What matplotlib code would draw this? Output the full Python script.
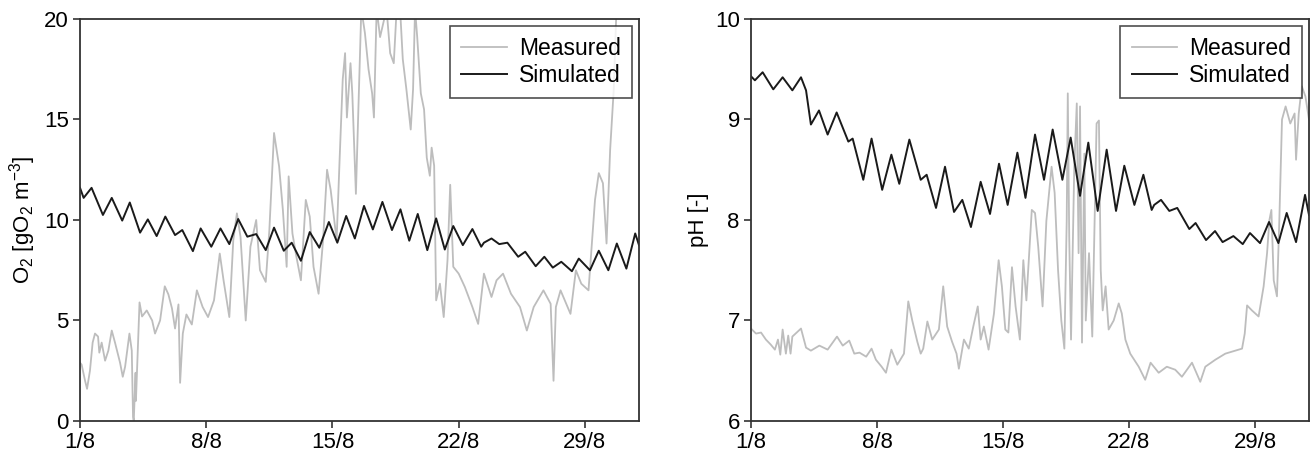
import matplotlib
matplotlib.use("Agg")
import matplotlib.pyplot as plt

plt.rcParams.update({
    "font.family": ["Liberation Sans", "DejaVu Sans"],
    "mathtext.fontset": "custom",
    "mathtext.rm": "Liberation Sans",
    "mathtext.it": "Liberation Sans:italic",
    "mathtext.bf": "Liberation Sans:bold",
})

# days after 1 August
TICK_DAYS = [0, 7, 14, 21, 28]
TICK_LABELS = ["1/8", "8/8", "15/8", "22/8", "29/8"]

o2_meas_day = [0.0, 0.09, 0.28, 0.39, 0.55, 0.7, 0.83, 1.0, 1.07, 1.2, 1.39, 1.57, 1.76, 1.94,
               2.22, 2.37, 2.5, 2.74, 2.87, 2.94, 2.98, 3.08, 3.1, 3.3, 3.44, 3.7, 4.0, 4.16,
               4.44, 4.7, 4.9, 5.1, 5.27, 5.46, 5.55, 5.7, 5.9, 6.2, 6.48, 6.8, 7.1, 7.43,
               7.75, 7.96, 8.28, 8.5, 8.7, 8.9, 9.19, 9.45, 9.77, 9.98, 10.3, 10.5, 10.76,
               11.04, 11.25, 11.46, 11.57, 11.78, 12.0, 12.25, 12.52, 12.74, 12.95, 13.23,
               13.48, 13.7, 13.9, 14.23, 14.4, 14.57, 14.7, 14.8, 15.0, 15.1, 15.3, 15.5,
               15.6, 15.8, 16.0, 16.2, 16.3, 16.45, 16.64, 17.0, 17.2, 17.4, 17.56, 17.75,
               17.9, 18.1, 18.34, 18.47, 18.58, 18.7, 18.9, 19.08, 19.23, 19.4, 19.5, 19.64,
               19.75, 19.96, 20.17, 20.38, 20.53, 20.7, 21.0, 21.34, 21.76, 22.08, 22.4,
               22.82, 23.1, 23.46, 23.9, 24.4, 24.78, 25.16, 25.7, 26.1, 26.26, 26.39, 26.65,
               27.2, 27.5, 27.8, 28.2, 28.56, 28.77, 29.0, 29.2, 29.4, 29.6, 29.75, 30.0, 31.0]
o2_meas = [2.9, 2.8, 2.0, 1.6, 2.5, 3.9, 4.35, 4.2, 3.4, 3.9, 3.0, 3.5, 4.5, 3.9,
           2.9, 2.2, 2.7, 4.35, 3.5, 0.2, 0.0, 2.4, 1.0, 5.9, 5.2, 5.5, 5.0, 4.35,
           5.0, 6.7, 6.3, 5.6, 4.6, 5.8, 1.9, 4.35, 5.3, 4.8, 6.5, 5.67, 5.17, 6.0,
           8.33, 7.0, 5.17, 9.0, 10.33, 9.17, 5.0, 8.67, 10.0, 7.5, 6.92, 9.5, 14.33,
           12.67, 10.5, 7.67, 12.17, 9.33, 8.17, 7.0, 11.0, 10.17, 7.67, 6.33,
           9.0, 12.5, 11.5, 9.0, 13.1, 17.0, 18.3, 15.1, 17.8, 16.3, 11.3, 17.5,
           20.5, 19.3, 17.5, 16.3, 15.1, 20.5, 19.1, 20.5, 18.3, 17.8, 20.5, 20.5,
           18.0, 16.5, 14.5, 16.5, 20.5, 19.1, 16.3, 15.5, 13.1, 12.2, 13.6, 12.7,
           6.0, 6.83, 5.17, 8.0, 11.75, 7.67, 7.33, 6.67, 5.67, 4.83, 7.33,
           6.17, 7.0, 7.33, 6.33, 5.67, 4.5, 5.67, 6.5, 5.83, 2.0, 5.67, 6.5,
           5.33, 7.5, 6.83, 6.5, 11.0, 12.33, 11.83, 8.83, 13.5, 16.5, 20.5, 21.0, 21.0]

o2_sim_day = [0.0, 0.2, 0.64, 1.27, 1.76, 2.34, 2.76, 3.33, 3.76, 4.25, 4.73, 5.27, 5.67,
              6.26, 6.69, 7.28, 7.79, 8.28, 8.77, 9.28, 9.77, 10.3, 10.76, 11.3, 11.74,
              12.25, 12.74, 13.27, 13.8, 14.27, 14.76, 15.24, 15.75, 16.24, 16.77, 17.3,
              17.77, 18.26, 18.73, 19.26, 19.75, 20.23, 20.7, 21.23, 21.76, 22.25, 22.4,
              22.82, 23.25, 23.7, 24.3, 24.69, 25.27, 25.75, 26.22, 26.69, 27.28, 27.66,
              28.28, 28.77, 29.3, 29.77, 30.3, 30.79, 31.0]
o2_sim = [11.6, 11.1, 11.6, 10.25, 11.1, 9.97, 10.87, 9.37, 10.03, 9.2, 10.17, 9.25, 9.5,
          8.45, 9.58, 8.67, 9.58, 8.8, 10.05, 9.17, 9.3, 8.5, 9.62, 8.47, 8.87,
          7.97, 9.4, 8.62, 9.9, 8.87, 10.2, 9.08, 10.7, 9.53, 10.9, 9.5,
          10.53, 8.97, 10.3, 8.5, 10.08, 8.53, 9.7, 8.75, 9.55, 8.67, 8.87,
          9.08, 8.8, 8.87, 8.17, 8.42, 7.7, 8.17, 7.63, 7.92, 7.45, 8.08,
          7.5, 8.47, 7.5, 8.83, 7.58, 9.33, 8.75]

ph_meas_day = [0.0, 0.28, 0.56, 0.83, 1.1, 1.33, 1.5, 1.63, 1.76, 1.94, 2.07, 2.2, 2.3, 2.78,
               3.06, 3.33, 3.8, 4.26, 4.78, 5.1, 5.46, 5.74, 6.03, 6.4, 6.7, 6.94, 7.26,
               7.5, 7.8, 8.13, 8.5, 8.74, 8.96, 9.24, 9.43, 9.57, 9.8, 10.07, 10.44, 10.68,
               10.9, 11.17, 11.42, 11.55, 11.83, 12.1, 12.35, 12.6, 12.76, 12.94, 13.2,
               13.5, 13.76, 13.94, 14.13, 14.3, 14.5, 14.7, 14.94, 15.13, 15.3, 15.6, 15.78,
               15.96, 16.2, 16.41, 16.7, 16.87, 17.06, 17.24, 17.41, 17.54, 17.6, 17.68,
               17.78, 17.96, 18.1, 18.2, 18.28, 18.39, 18.52, 18.6, 18.78, 18.96, 19.2,
               19.33, 19.43, 19.54, 19.7, 19.87, 20.15, 20.43, 20.6, 20.8, 21.07, 21.54,
               21.9, 22.2, 22.65, 23.1, 23.57, 23.94, 24.5, 24.96, 25.24, 25.8, 26.35,
               26.9, 27.28, 27.43, 27.56, 27.83, 28.2, 28.48, 28.67, 28.8, 28.91, 29.04,
               29.22, 29.35, 29.5, 29.7, 29.96, 30.2, 30.28, 30.43, 30.6, 30.8, 31.0]
ph_meas = [6.92, 6.87, 6.88, 6.81, 6.76, 6.71, 6.81, 6.66, 6.91, 6.67, 6.85, 6.67, 6.84, 6.92,
           6.73, 6.70, 6.75, 6.71, 6.84, 6.75, 6.80, 6.67, 6.68, 6.64, 6.72, 6.61, 6.54,
           6.48, 6.71, 6.56, 6.67, 7.19, 7.0, 6.79, 6.67, 6.72, 6.99, 6.81, 6.91, 7.34,
           6.94, 6.79, 6.67, 6.52, 6.81, 6.72, 6.94, 7.14, 6.81, 6.94, 6.71,
           7.07, 7.60, 7.34, 6.91, 6.88, 7.53, 7.14, 6.81, 7.60, 7.2, 8.10, 8.07,
           7.73, 7.14, 7.99, 8.53, 8.27, 7.50, 7.0, 6.72, 7.99, 9.26, 7.83,
           6.81, 8.53, 9.16, 7.67, 9.13, 6.78, 8.66, 7.0, 7.67, 6.84, 8.96,
           8.99, 7.50, 7.10, 7.34, 6.91, 7.0, 7.17, 7.07, 6.81, 6.67, 6.54,
           6.41, 6.58, 6.48, 6.54, 6.51, 6.44, 6.58, 6.39, 6.54, 6.61, 6.67,
           6.70, 6.72, 6.87, 7.15, 7.10, 7.04, 7.34, 7.67, 8.0, 8.10, 7.40,
           7.24, 7.99, 9.0, 9.13, 8.96, 9.06, 8.6, 9.06, 9.33, 9.23, 9.0]

ph_sim_day = [0.0, 0.22, 0.65, 1.24, 1.76, 2.3, 2.78, 3.06, 3.33, 3.78, 4.26, 4.76, 5.41,
              5.65, 6.24, 6.7, 7.29, 7.8, 8.24, 8.8, 9.43, 9.76, 10.28, 10.78, 11.28,
              11.74, 12.22, 12.76, 13.28, 13.78, 14.26, 14.8, 15.25, 15.78, 16.28, 16.76,
              17.3, 17.76, 18.28, 18.74, 19.26, 19.76, 20.28, 20.74, 21.3, 21.8, 22.26,
              22.4, 22.78, 23.24, 23.68, 24.35, 24.7, 25.28, 25.78, 26.2, 26.8, 27.32,
              27.72, 28.28, 28.78, 29.3, 29.76, 30.28, 30.78, 31.0]
ph_sim = [9.43, 9.39, 9.47, 9.30, 9.42, 9.29, 9.42, 9.29, 8.95, 9.09, 8.85, 9.07, 8.78,
          8.81, 8.40, 8.81, 8.30, 8.65, 8.36, 8.80, 8.40, 8.45, 8.12, 8.53, 8.08,
          8.20, 7.93, 8.38, 8.06, 8.56, 8.15, 8.67, 8.22, 8.85, 8.40, 8.90,
          8.40, 8.82, 8.24, 8.77, 8.09, 8.70, 8.09, 8.54, 8.15, 8.45, 8.10,
          8.15, 8.20, 8.09, 8.12, 7.91, 7.97, 7.80, 7.89, 7.78, 7.84, 7.76,
          7.87, 7.77, 7.98, 7.77, 8.07, 7.78, 8.25, 8.05]

MEAS_COLOR = "#bdbdbd"
SIM_COLOR = "#1a1a1a"
SPINE_COLOR = "#333333"

fig = plt.figure(figsize=(13.14, 4.61), dpi=100)
ax1 = fig.add_axes([0.0609, 0.0868, 0.4254, 0.872])
ax2 = fig.add_axes([0.5715, 0.0868, 0.4247, 0.872])

panels = [
    (ax1, o2_meas_day, o2_meas, o2_sim_day, o2_sim, (0, 20), [0, 5, 10, 15, 20],
     r"O$_\mathregular{2}$ [gO$_\mathregular{2}$ m$^\mathregular{-3}$]"),
    (ax2, ph_meas_day, ph_meas, ph_sim_day, ph_sim, (6, 10), [6, 7, 8, 9, 10], "pH [-]"),
]

for ax, md, mv, sd, sv, ylim, yticks, ylabel in panels:
    ax.plot(md, mv, color=MEAS_COLOR, linewidth=1.3, label="Measured")
    ax.plot(sd, sv, color=SIM_COLOR, linewidth=1.4, label="Simulated")
    ax.set_xlim(0, 31)
    ax.set_ylim(*ylim)
    ax.set_xticks(TICK_DAYS)
    ax.set_xticklabels(TICK_LABELS)
    ax.set_yticks(yticks)
    ax.tick_params(direction="out", length=5, width=1.2, color=SPINE_COLOR,
                   labelsize=16, pad=3, top=False, right=False)
    for sp in ax.spines.values():
        sp.set_color(SPINE_COLOR)
        sp.set_linewidth(1.3)
    ax.set_ylabel(ylabel, fontsize=16, labelpad=4)
    leg = ax.legend(loc="upper right", fontsize=16.5, frameon=True, fancybox=False,
                    edgecolor="#222222", handlelength=2.0, handletextpad=0.5,
                    labelspacing=0.15, borderpad=0.5, borderaxespad=0.3)
    leg.get_frame().set_linewidth(1.2)

fig.savefig("out.png", dpi=100)
